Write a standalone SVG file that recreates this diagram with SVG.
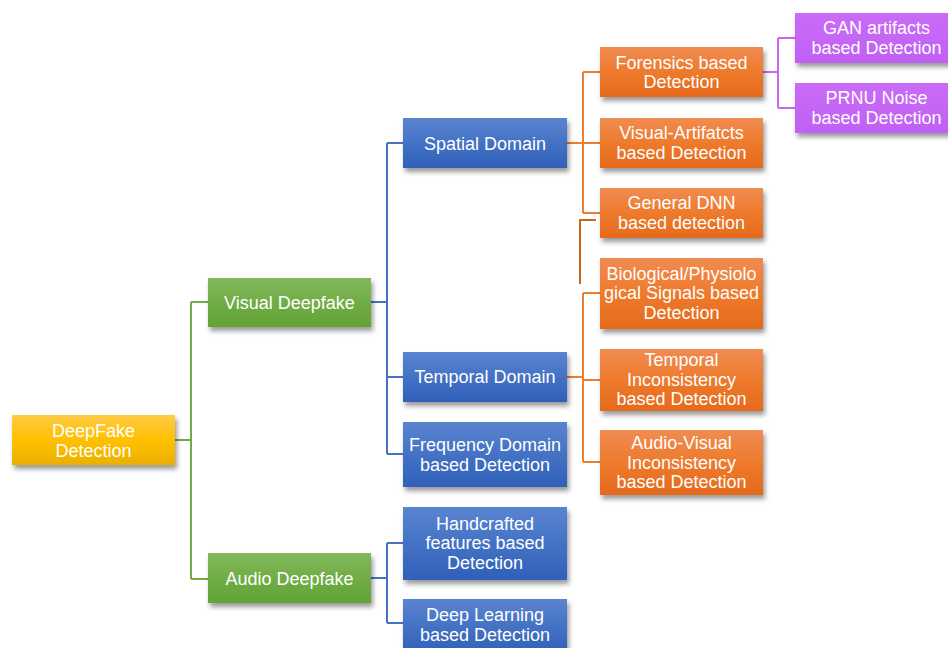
<svg xmlns="http://www.w3.org/2000/svg" width="948" height="648" viewBox="0 0 948 648">
  <defs>
    <filter id="shadow" x="-10%" y="-20%" width="125%" height="150%">
      <feDropShadow dx="2" dy="4" stdDeviation="2.5" flood-color="#000" flood-opacity="0.4"/>
    </filter>
    <linearGradient id="gYellow" x1="0" y1="0" x2="0" y2="1">
      <stop offset="0" stop-color="#FFCB45"/>
      <stop offset="0.5" stop-color="#FFC000"/>
      <stop offset="1" stop-color="#E9B000"/>
    </linearGradient>
    <linearGradient id="gGreen" x1="0" y1="0" x2="0" y2="1">
      <stop offset="0" stop-color="#81B95B"/>
      <stop offset="0.5" stop-color="#70AD47"/>
      <stop offset="1" stop-color="#62A334"/>
    </linearGradient>
    <linearGradient id="gBlue" x1="0" y1="0" x2="0" y2="1">
      <stop offset="0" stop-color="#5A84D0"/>
      <stop offset="0.5" stop-color="#4472C4"/>
      <stop offset="1" stop-color="#3060BA"/>
    </linearGradient>
    <linearGradient id="gOrange" x1="0" y1="0" x2="0" y2="1">
      <stop offset="0" stop-color="#F08C52"/>
      <stop offset="0.5" stop-color="#EE7A2C"/>
      <stop offset="1" stop-color="#E56A1C"/>
    </linearGradient>
    <linearGradient id="gPurple" x1="0" y1="0" x2="0" y2="1">
      <stop offset="0" stop-color="#C96CF7"/>
      <stop offset="1" stop-color="#C160F4"/>
    </linearGradient>
  </defs>
  <style>
    .box { filter: url(#shadow); }
    .yellow { fill: url(#gYellow); }
    .green { fill: url(#gGreen); }
    .blue { fill: url(#gBlue); }
    .orange { fill: url(#gOrange); }
    .purple { fill: url(#gPurple); }
    text { font-family: "Liberation Sans", Arial, sans-serif; font-size: 18px; fill: #FFFFFF; text-anchor: middle; }
    .wire { fill: none; stroke-width: 2; }
    .w-green { stroke: #70AD47; }
    .w-blue { stroke: #4472C4; }
    .w-orange { stroke: #ED7D31; }
    .w-dark { stroke: #C8661E; }
    .w-purple { stroke: #C966F5; }
  </style>

  <rect width="948" height="648" fill="#FFFFFF"/>

  <g id="connectors">
    <!-- root to visual / audio -->
    <path class="wire w-green" d="M175 440 H191 M191 302 V579 M191 302 H208 M191 579 H208"/>
    <!-- visual deepfake to domains -->
    <path class="wire w-blue" d="M371 302 H387 M387 143 V454 M387 143 H403 M387 377 H403 M387 454 H403"/>
    <!-- audio deepfake to methods -->
    <path class="wire w-blue" d="M371 578 H387 M387 543 V623 M387 543 H403 M387 623 H403"/>
    <!-- spatial domain branch -->
    <path class="wire w-orange" d="M567 143 H583 M583 72 V213 M583 72 H600 M583 143 H600 M583 213 H600"/>
    <!-- temporal domain branch -->
    <path class="wire w-orange" d="M567 377 H583 M583 293 V462 M583 293 H600 M583 380 H600 M583 462 H600"/>
    <!-- stray elbow -->
    <path class="wire w-dark" d="M596 220 H580 V284"/>
    <!-- forensics to sub-methods -->
    <path class="wire w-purple" d="M763 72 H778 M778 38 V108 M778 38 H795 M778 108 H795"/>
  </g>

  <g id="deepfake-detection">
    <rect class="box yellow" x="12" y="415" width="163" height="50"/>
    <text x="93.5" y="437">DeepFake</text>
    <text x="93.5" y="456.5">Detection</text>
  </g>

  <g id="visual-deepfake">
    <rect class="box green" x="208" y="278" width="163" height="49"/>
    <text x="289.5" y="308.5">Visual Deepfake</text>
  </g>

  <g id="audio-deepfake">
    <rect class="box green" x="208" y="553" width="163" height="50"/>
    <text x="289.5" y="584.5">Audio Deepfake</text>
  </g>

  <g id="spatial-domain">
    <rect class="box blue" x="403" y="118" width="164" height="50"/>
    <text x="485" y="149.5">Spatial Domain</text>
  </g>

  <g id="temporal-domain">
    <rect class="box blue" x="403" y="352" width="164" height="50"/>
    <text x="485" y="382.5">Temporal Domain</text>
  </g>

  <g id="frequency-domain">
    <rect class="box blue" x="403" y="422" width="164" height="65"/>
    <text x="485" y="451">Frequency Domain</text>
    <text x="485" y="470.5">based Detection</text>
  </g>

  <g id="handcrafted">
    <rect class="box blue" x="403" y="507" width="164" height="73"/>
    <text x="485" y="529.5">Handcrafted</text>
    <text x="485" y="549">features based</text>
    <text x="485" y="568.5">Detection</text>
  </g>

  <g id="deep-learning">
    <rect class="box blue" x="403" y="599" width="164" height="55"/>
    <text x="485" y="621">Deep Learning</text>
    <text x="485" y="640.5">based Detection</text>
  </g>

  <g id="forensics">
    <rect class="box orange" x="600" y="47" width="163" height="50"/>
    <text x="681.5" y="68.5">Forensics based</text>
    <text x="681.5" y="88">Detection</text>
  </g>

  <g id="visual-artifacts">
    <rect class="box orange" x="600" y="118" width="163" height="50"/>
    <text x="681.5" y="139">Visual-Artifatcts</text>
    <text x="681.5" y="158.5">based Detection</text>
  </g>

  <g id="general-dnn">
    <rect class="box orange" x="600" y="188" width="163" height="50"/>
    <text x="681.5" y="209">General DNN</text>
    <text x="681.5" y="228.5">based detection</text>
  </g>

  <g id="biological">
    <rect class="box orange" x="600" y="258" width="163" height="71"/>
    <text x="681.5" y="279.5">Biological/Physiolo</text>
    <text x="681.5" y="299">gical Signals based</text>
    <text x="681.5" y="318.5">Detection</text>
  </g>

  <g id="temporal-inconsistency">
    <rect class="box orange" x="600" y="349" width="163" height="62"/>
    <text x="681.5" y="366">Temporal</text>
    <text x="681.5" y="385.5">Inconsistency</text>
    <text x="681.5" y="405">based Detection</text>
  </g>

  <g id="audio-visual">
    <rect class="box orange" x="600" y="430" width="163" height="65"/>
    <text x="681.5" y="449">Audio-Visual</text>
    <text x="681.5" y="468.5">Inconsistency</text>
    <text x="681.5" y="488">based Detection</text>
  </g>

  <g id="gan-artifacts">
    <rect class="box purple" x="795" y="13" width="163" height="50"/>
    <text x="876.5" y="34">GAN artifacts</text>
    <text x="876.5" y="53.5">based Detection</text>
  </g>

  <g id="prnu-noise">
    <rect class="box purple" x="795" y="83" width="163" height="50"/>
    <text x="876.5" y="104">PRNU Noise</text>
    <text x="876.5" y="123.5">based Detection</text>
  </g>
</svg>
